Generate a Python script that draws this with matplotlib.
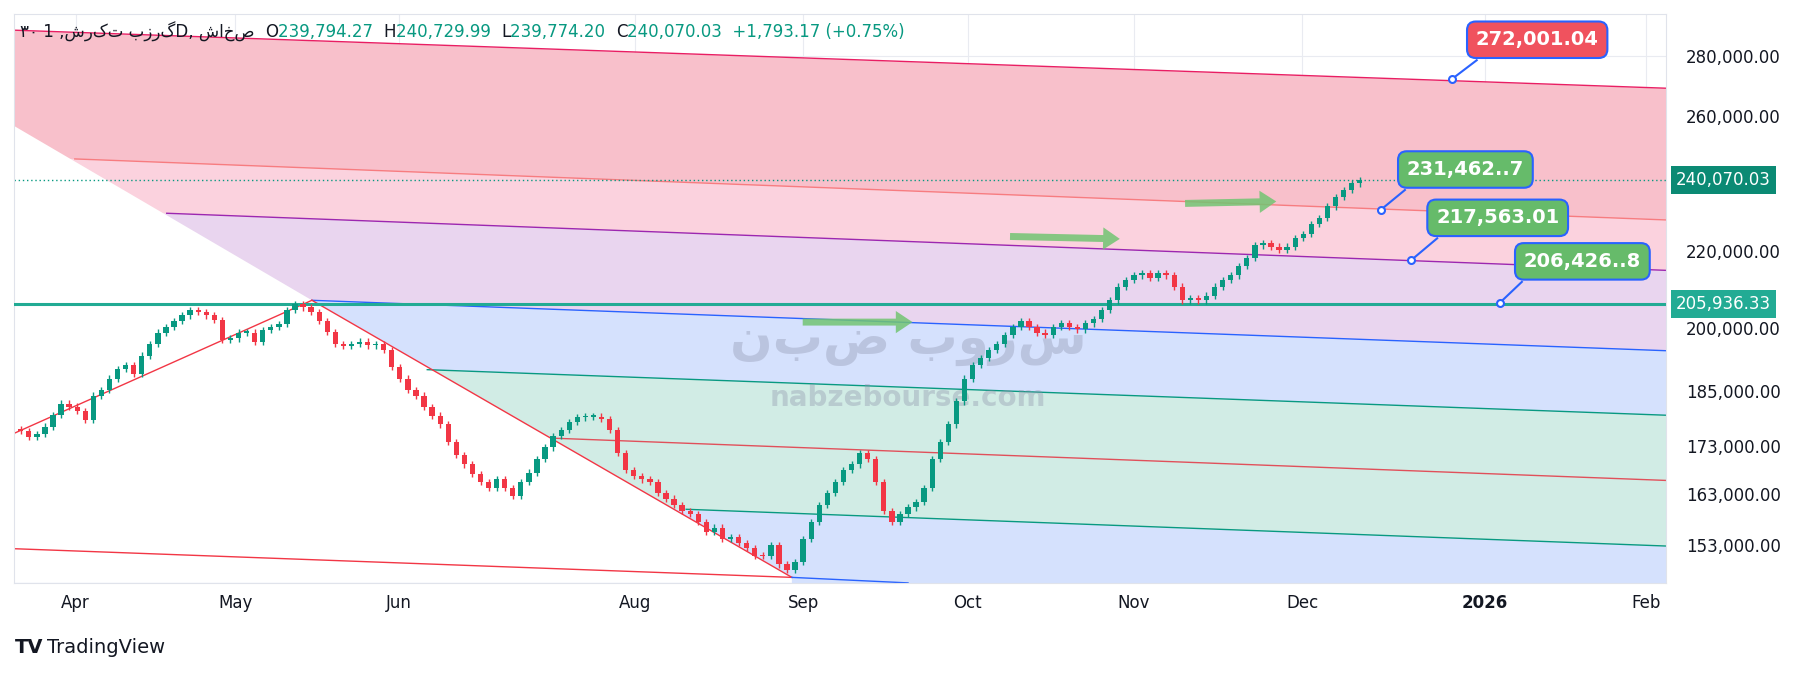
import numpy as np
import matplotlib
matplotlib.use("Agg")
import matplotlib.pyplot as plt
from matplotlib.ticker import FixedLocator, NullLocator
from matplotlib.transforms import blended_transform_factory

plt.rcParams['font.family'] = ['DejaVu Sans', 'Noto Sans']

# daily closes
closes = [
    176100, 174800, 175500, 177100, 179600, 182200, 181500, 180600, 178600, 184000,
    185300, 187900, 190100, 191100, 189000, 193300, 196100, 198900, 200300, 201800,
    203200, 204600, 204000, 203200, 202000,
    197200, 197500, 198900, 198900, 196700, 199500, 200300, 201000, 204600, 206100, 205200, 204000,
    201800, 199000, 196100, 195600, 196100, 196700, 195800, 196100, 194700, 190600, 187900, 185300,
    184000, 181400, 179500, 177600, 173800, 171000, 169000, 167000, 165400, 164200, 165900, 164200, 162600,
    165400, 167300, 170200, 172600, 175100, 176400, 178100, 179100, 179300, 179300, 178800,
    176400, 171400, 167800, 166600, 165900, 165400, 163100, 162000, 160800, 159600, 159000, 157400,
    155500, 156300, 154100, 154500, 153400, 152400, 151000, 150900, 153000, 149400, 148300,
    149800, 154100, 157400, 160800, 163100, 165400, 167800, 169000, 171400,
    170200, 165400, 159600, 157400, 159000, 160300, 161300, 164200,
    170200, 173800, 177600, 182700, 187900, 191100, 192800, 194700,
    196100, 198300, 200300, 201800, 200300, 198900,
    198300, 200300, 201200, 200300, 199700, 201200, 202300, 204600,
    207000, 210500, 212300, 213500, 214100, 212900, 214100, 213500, 210500, 207000,
    207600, 207000, 208200, 210500, 212300, 213500, 215900, 218100, 221500, 222200, 221200,
    220300, 221200, 223500, 224600, 227400, 229200, 232500, 235200, 237200, 239200, 240070.03,
]
first_open = 176500

month_labels = ['Apr', 'May', 'Jun', 'Aug', 'Sep', 'Oct', 'Nov', 'Dec', '2026', 'Feb']
month_pos = [6.8, 26.6, 46.9, 76.1, 97.0, 117.4, 138.0, 158.9, 181.5, 201.5]
price_ticks = [153000, 163000, 173000, 185000, 200000, 220000, 260000, 280000]

last_close = 240070.03
level_line = 205936.33

# channel drawing: (x0, price0, x1, price1)
ch_top = (-0.85, 289000, 204, 269000)
ch_second = (6.7, 246500, 204, 228600)
ch_purple = (18.1, 230500, 204, 214800)
ch_blue = (36.1, 207000, 204, 194500)
ch_teal = (50.4, 190000, 204, 179600)
ch_red = (65.7, 174600, 204, 165700)
ch_teal2 = (82.5, 159900, 204, 152800)
ch_bottom = (-0.85, 152300, 95.6, 147000)
rise_line = (-0.85, 175600, 36.1, 207000)
fall_line = (36.1, 207000, 95.6, 147000)
diag_line = (-0.85, 256800, 36.1, 207000)
blue_bottom = (95.6, 147000, 110, 146000)

callouts = [  # text, box x, box price, point x, point price, face
    ('272,001.04', 188.0, 285600, 177.4, 272001.04, '#f0525e'),
    ('231,462..7', 179.1, 243300, 168.6, 231462.7, '#66bb6a'),
    ('217,563.01', 183.1, 229200, 172.4, 217563.01, '#66bb6a'),
    ('206,426..8', 193.6, 217200, 183.4, 206426.8, '#66bb6a'),
]
arrows = [(96.6, 201500, 110.9, 201500), (122.3, 224000, 136.6, 223300), (144.0, 233300, 156.0, 233900)]

XMIN, XMAX = -0.85, 204.0
YMIN, YMAX = 146000, 295000


def at(line, x):
    x0, p0, x1, p1 = line
    t = (x - x0) / (x1 - x0)
    return np.exp(np.log(p0) + t * (np.log(p1) - np.log(p0)))


fig = plt.figure(figsize=(18, 6.77), dpi=100)
ax = fig.add_axes([0.0077, 0.139, 0.918, 0.841])
ax.set_yscale('log')
ax.set_xlim(XMIN, XMAX)
ax.set_ylim(YMIN, YMAX)

xs = np.array([XMIN, XMAX])
bands = [
    (ch_top, ch_second, '#f8c0cb'),
    (ch_second, ch_purple, '#fbd2de'),
    (ch_purple, ch_blue, '#e9d5ef'),
    (ch_blue, ch_teal, '#d5e1fd'),
    (ch_teal, ch_red, '#d1ece5'),
    (ch_red, ch_teal2, '#d1ece5'),
]
for a, b, c in bands:
    ax.fill_between(xs, at(a, xs), at(b, xs), color=c, lw=0, zorder=1)
ax.fill_between(xs, at(ch_teal2, xs), YMIN, color='#d5e1fd', lw=0, zorder=1)

# white area left of the fan
poly_x = [XMIN, diag_line[2], fall_line[2], fall_line[2], XMIN]
poly_y = [diag_line[1], diag_line[3], fall_line[3], YMIN, YMIN]
ax.fill(poly_x, poly_y, color='white', lw=0, zorder=1.5)

for line, col, x_start in [(ch_top, '#e91e63', XMIN), (ch_second, '#f77c80', ch_second[0]),
                           (ch_purple, '#9c27b0', ch_purple[0]), (ch_blue, '#2962ff', ch_blue[0]),
                           (ch_teal, '#089981', ch_teal[0]), (ch_red, '#e0505a', ch_red[0]),
                           (ch_teal2, '#089981', ch_teal2[0])]:
    lx = np.array([x_start, XMAX])
    ax.plot(lx, at(line, lx), color=col, lw=1, zorder=2)
for line, col in [(ch_bottom, '#f23645'), (rise_line, '#f23645'), (fall_line, '#f23645'), (blue_bottom, '#2962ff')]:
    ax.plot([line[0], line[2]], [line[1], line[3]], color=col, lw=1, zorder=2)

ax.axhline(level_line, color='#22ab94', lw=2.2, zorder=3)
ax.axhline(last_close, color='#089981', lw=1, ls=(0, (1, 2)), zorder=2)

# grid
for p in price_ticks + [240000]:
    ax.axhline(p, color='#e9ebf1', lw=0.8, zorder=0.5)
for m in month_pos:
    ax.axvline(m, color='#e9ebf1', lw=0.8, zorder=0.5)

# watermark
ax.text(110, 196500, 'نبض بورس', fontsize=36, color='#8a8fa8', alpha=0.35, ha='center', va='center',
        fontweight='bold', zorder=2.5)
ax.text(110, 183500, 'nabzebourse.com', fontsize=20, color='#8a8fa8', alpha=0.35, ha='center', va='center',
        fontweight='bold', zorder=2.5)

# candles
c = np.array(closes)
o = np.concatenate([[first_open], c[:-1]])
hi = np.maximum(o, c) * 1.004
lo = np.minimum(o, c) * 0.996
idx = np.arange(len(c))
cols = np.where(c >= o, '#089981', '#f23645')
ax.vlines(idx, lo, hi, colors=cols, lw=1, zorder=4)
body_h = np.maximum(np.abs(c - o), c * 0.002)
ax.bar(idx, body_h, bottom=np.minimum(o, c), width=0.66, color=cols, zorder=4)

# arrows
for x0, y0, x1, y1 in arrows:
    ax.annotate('', xy=(x1, y1), xytext=(x0, y0),
                arrowprops=dict(arrowstyle='simple,head_width=1.6,head_length=1.2,tail_width=0.5',
                                color='#72c472', alpha=0.85, lw=0), zorder=5)

# callouts
for txt, bx, bp, px, pp, face in callouts:
    ax.plot([bx - 7.5, px], [bp * 0.975, pp], color='#2962ff', lw=1.5, zorder=6)
    ax.text(bx, bp, txt, fontsize=14, fontweight='bold', color='white', ha='center', va='center', zorder=7,
            bbox=dict(boxstyle='round,pad=0.45', fc=face, ec='#2962ff', lw=1.5))
    ax.plot(px, pp, 'o', ms=5, mfc='white', mec='#2962ff', mew=1.5, zorder=8)

# axes
ax.yaxis.tick_right()
ax.yaxis.set_major_locator(FixedLocator(price_ticks))
ax.yaxis.set_minor_locator(NullLocator())
ax.set_yticklabels([f'{p:,.2f}' for p in price_ticks])
ax.set_xticks(month_pos)
ax.set_xticklabels(month_labels)
for lab in ax.get_xticklabels():
    if lab.get_text() == '2026':
        lab.set_fontweight('bold')
ax.tick_params(length=0, labelsize=12, colors='#131722', pad=8)
ax.tick_params(axis='y', pad=14)
for s in ax.spines.values():
    s.set_color('#e0e3eb')

tr = blended_transform_factory(ax.transAxes, ax.transData)
for p, face in [(last_close, '#0b8a74'), (level_line, '#22ab94')]:
    ax.text(1.006, p, f'{p:,.2f}', transform=tr, fontsize=12, color='white', va='center', ha='left',
            zorder=9, bbox=dict(boxstyle='square,pad=0.3', fc=face, ec='none'), clip_on=False)

# header, laid out piece by piece
header = [('۳۰ 1 ,شرکت بزرگD, شاخص  ', '#131722'), ('O', '#131722'), ('239,794.27  ', '#089981'),
          ('H', '#131722'), ('240,729.99  ', '#089981'), ('L', '#131722'), ('239,774.20  ', '#089981'),
          ('C', '#131722'), ('240,070.03  +1,793.17 (+0.75%)', '#089981')]
renderer = fig.canvas.get_renderer()
hx = 0.011
for txt, col in header:
    t = fig.text(hx, 0.945, txt, fontsize=12, color=col)
    hx += t.get_window_extent(renderer).width / fig.bbox.width

fig.text(0.008, 0.035, 'TV', fontsize=14, fontweight='heavy', color='#131722')
fig.text(0.026, 0.035, 'TradingView', fontsize=14, color='#131722')

fig.savefig('out.png', dpi=100)
